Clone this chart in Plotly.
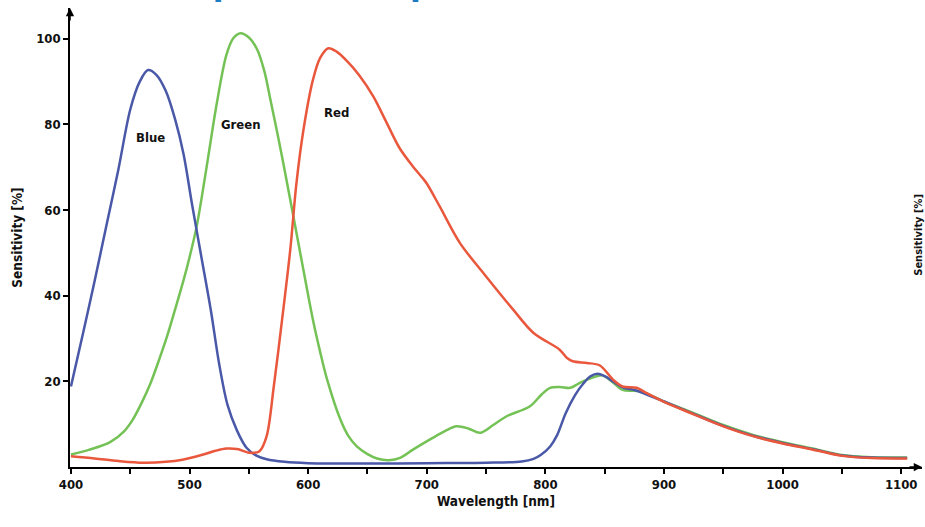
import plotly.graph_objects as go

# ---- data ----
wl_blue = [400, 410, 420, 430, 440, 450, 458, 465, 472, 480, 488, 495, 502, 510, 518, 525,
           532, 540, 548, 556, 565, 580, 600, 650, 700, 750, 780, 790, 796, 804, 810, 817,
           825, 832, 838, 844, 850, 858, 866, 875, 885, 900, 925, 950, 975, 1000, 1025,
           1050, 1075, 1105]
sens_blue = [18.8, 31, 43.5, 56.5, 69.5, 83.5, 90, 92.7, 91.6, 87.8, 81, 73, 61.5, 49,
             36.5, 24, 14.5, 8.5, 4.5, 2.7, 1.8, 1.2, 0.9, 0.8, 0.9, 1.0, 1.3, 1.9, 2.8, 4.8,
             7.5, 12.5, 16.8, 19.5, 21.2, 21.8, 21.2, 19.8, 18.5, 18, 17, 15.3, 12.4, 9.6,
             7.3, 5.6, 4.2, 2.7, 2.2, 2.1]

wl_green = [400, 415, 433, 445, 452, 460, 467, 474, 481, 488, 495, 500, 506, 514, 523, 531,
            537, 543, 550, 557, 563, 568, 574, 579, 587, 596, 604, 610, 616, 627, 634, 641,
            650, 658, 668, 678, 688, 705, 716, 725, 735, 745, 756, 767, 787, 797, 804, 812,
            821, 828, 835, 843, 848, 856, 865, 880, 900, 925, 950, 975, 1000, 1025, 1050,
            1075, 1105]
sens_green = [2.9, 4, 5.8, 8.4, 11, 15.2, 19.5, 24.8, 30.5, 37, 43.7, 49, 56.2, 69.4, 85, 96.2,
              100.2, 101.3, 100.3, 97.5, 92.5, 86, 78, 71, 59.3, 46, 34.4, 27, 20.4, 11.2, 7.2,
              4.8, 3, 2.0, 1.6, 2.2, 4, 6.8, 8.5, 9.5, 9, 8, 9.8, 11.8, 14.2, 17, 18.5, 18.7,
              18.5, 19.5, 20.4, 21.2, 21.4, 20, 18, 17.7, 15.3, 12.6, 9.8, 7.5, 5.8, 4.3, 2.8,
              2.3, 2.2]

wl_red = [400, 420, 440, 461, 480, 494, 510, 522, 531, 540, 551, 559, 565, 571, 578, 585,
          590, 596, 604, 610, 617, 624, 632, 643, 655, 666, 677, 688, 697, 700, 711, 728,
          750, 773, 790, 812, 818, 823, 835, 846, 857, 865, 877, 885, 900, 925, 950, 975,
          1000, 1025, 1050, 1075, 1105]
sens_red = [2.5, 2, 1.4, 1, 1.2, 1.7, 2.8, 3.8, 4.3, 4.2, 3.3, 3.7, 7.2, 18.8, 34.4, 51,
            66, 78.7, 90.4, 95.5, 97.8, 97.0, 95.0, 91.5, 86.5, 80.5, 74.5, 70.3, 67.3, 66.2,
            60.8, 52.3, 44.5, 36.7, 31.3, 27.4, 25.5, 24.7, 24.3, 23.7, 20.4, 18.8, 18.5,
            17.3, 15.2, 12.3, 9.5, 7.2, 5.5, 4.1, 2.6, 2.1, 2.0]

x_ticks = [400, 500, 600, 700, 800, 900, 1000, 1100]
x_minor_ticks = [450, 550, 650, 750, 850, 950, 1050]
y_ticks = [20, 40, 60, 80, 100]

labels = ["Blue", "Green", "Red"]
label_x = [467, 543, 624]
label_y = [77, 80, 82.7]

FONT = "DejaVu Sans Condensed, Liberation Sans Narrow, Roboto Condensed, Roboto, sans-serif"

fig = go.Figure()
for wl, s, col, name in [(wl_green, sens_green, "#74c255", "Green"),
                         (wl_blue, sens_blue, "#4a58a8", "Blue"),
                         (wl_red, sens_red, "#e9573c", "Red")]:
    fig.add_trace(go.Scatter(x=wl, y=s, mode="lines", name=name,
                             line=dict(color=col, width=2.5, shape="spline", smoothing=0.9),
                             showlegend=False))

for t, xx, yy in zip(labels, label_x, label_y):
    fig.add_annotation(x=xx, y=yy, text=t, showarrow=False,
                       font=dict(family=FONT, size=13, color="#111", weight="bold"))

# axis arrows
fig.add_annotation(x=0, y=1, xref="paper", yref="paper", ax=0, ay=14, text="",
                   showarrow=True, arrowhead=2, arrowsize=1.1, arrowwidth=1.5, arrowcolor="black")
fig.add_annotation(x=1, y=0, xref="paper", yref="paper", ax=-14, ay=0, text="",
                   showarrow=True, arrowhead=2, arrowsize=1.1, arrowwidth=1.5, arrowcolor="black")

# partial title at top (cut off in the reference)
fig.add_annotation(x=0.1408, y=1.0044, xref="paper", yref="paper", xanchor="left",
                   yanchor="bottom", text="Spectral response", showarrow=False,
                   font=dict(family="Open Sans", size=37, color="#1c7cc2", weight="bold"))

# axis label of the neighbouring chart at right edge
fig.add_annotation(x=0.9865, y=0.506, xref="paper", yref="paper", xanchor="left",
                   text="Sensitivity [%]", textangle=-90, showarrow=False,
                   font=dict(family=FONT, size=11, color="#111", weight="bold"))

fig.update_layout(
    width=925, height=527,
    margin=dict(l=70, r=3, t=8, b=60),
    paper_bgcolor="white", plot_bgcolor="white",
    font=dict(family=FONT, size=13, color="#111"),
    xaxis=dict(range=[399.2, 1117.5], tickvals=x_ticks, ticks="outside", ticklen=5,
               tickwidth=1.5, tickcolor="black", showline=True, linecolor="black",
               linewidth=1.5, showgrid=False, zeroline=False,
               tickfont=dict(family=FONT, size=13, color="#111", weight="bold"),
               minor=dict(tickvals=x_minor_ticks, ticks="outside", ticklen=5,
                          tickwidth=1.5, tickcolor="black", showgrid=False),
               title=dict(text="Wavelength [nm]", standoff=5,
                          font=dict(family=FONT, size=13.5, color="#111", weight="bold"))),
    yaxis=dict(range=[0, 107.2], tickvals=y_ticks, ticks="outside", ticklen=5,
               tickwidth=1.5, tickcolor="black", showline=True, linecolor="black",
               linewidth=1.5, showgrid=False, zeroline=False,
               tickfont=dict(family=FONT, size=13, color="#111", weight="bold"),
               title=dict(text="Sensitivity [%]", standoff=11,
                          font=dict(family=FONT, size=13.5, color="#111", weight="bold"))),
)

fig.write_html("out.html", config={"displayModeBar": False},
               post_script="document.body.style.margin='0px';")
